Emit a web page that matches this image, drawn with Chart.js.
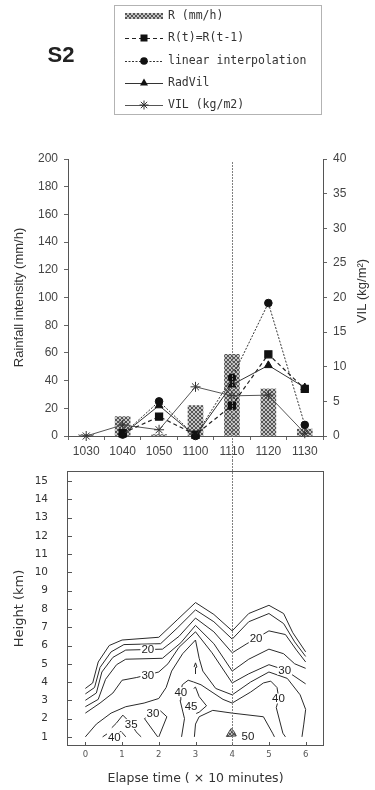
<!DOCTYPE html>
<html><head><meta charset="utf-8">
<script src="https://cdn.jsdelivr.net/npm/chart.js@4.4.1/dist/chart.umd.min.js"></script>
<style>
html,body{margin:0;padding:0;background:#fff;width:375px;height:790px;overflow:hidden}
#top{position:absolute;left:0;top:0;width:375px;height:460px}
#bot{position:absolute;left:0;top:460px;width:375px;height:330px}
</style></head><body>
<div id="top"><canvas id="c1"></canvas></div>
<div id="bot"><canvas id="c2"></canvas></div>
<script>
// ---------- top chart data ----------
const categories = ['1030','1040','1050','1100','1110','1120','1130'];
const rainR    = [1, 14, 1, 22, 59, 34, 5];          // R (mm/h) bars
const rPersist = [null, 2, 14, 1, 22, 59, 34];       // R(t)=R(t-1)
const rLinear  = [null, 1, 25, 0, 42, 96, 8];        // linear interpolation
const radVil   = [null, 1, 22, 0, 37, 51, 35];       // RadVil
const vil      = [0, 1.6, 0.9, 7.1, 5.8, 5.9, 0.4];  // VIL (kg/m2), right axis
const legendLabels = ['R (mm/h)','R(t)=R(t-1)','linear interpolation','RadVil','VIL (kg/m2)'];
const markerCategory = '1110';

// ---------- bottom chart (contours) data ----------
const heightTicks = [1,2,3,4,5,6,7,8,9,10,11,12,13,14,15];
const timeTicks = [0,1,2,3,4,5,6];
const markerTime = 4;
const c10 = [[0,3.65],[0.2,3.95],[0.35,5.1],[0.65,6.0],[1.0,6.3],[2.0,6.45],[2.5,7.4],[3.0,8.35],[3.5,7.7],[4.0,6.8],[4.45,7.75],[5.0,8.2],[5.4,7.75],[5.65,6.7],[6.0,5.65]];
const c15 = [[0,3.35],[0.25,3.7],[0.4,4.8],[0.7,5.65],[1.05,6.05],[2.05,6.1],[2.5,6.95],[3.0,7.95],[3.5,7.3],[4.0,6.35],[4.45,7.3],[5.0,7.75],[5.4,7.2],[5.7,6.2],[6.0,5.4]];
const c20 = [[0,3.0],[0.3,3.4],[0.45,4.55],[0.75,5.35],[1.1,5.75],[2.1,5.8],[2.55,6.5],[3.0,7.5],[3.5,6.75],[4.0,5.6],[4.4,6.1],[4.7,6.45],[5.0,6.8],[5.45,6.6],[5.75,5.75],[6.0,5.1]];
const c25 = [[0,2.65],[0.35,3.05],[0.55,4.15],[0.85,4.95],[1.1,5.25],[2.1,5.3],[2.6,6.15],[3.0,7.1],[3.5,6.1],[4.0,4.6],[4.45,5.25],[5.0,5.8],[5.4,5.55],[5.7,5.0],[6.0,4.75]];
const c30 = [[0,2.3],[0.4,2.85],[0.75,3.4],[1.0,4.1],[1.4,4.25],[2.0,4.55],[2.25,5.0],[2.55,5.9],[3.0,6.75],[3.45,5.6],[4.0,3.95],[4.45,4.45],[5.0,4.95],[5.45,4.65],[6.0,3.9]];
const c35 = [[0,1.0],[0.3,1.7],[0.7,2.3],[1.1,2.65],[1.6,2.85],[2.0,3.1],[2.2,3.7],[2.35,4.6],[2.65,5.55],[3.0,6.3],[3.1,5.3],[3.2,4.6],[3.55,3.65],[4.0,3.3],[4.5,4.0],[5.0,4.55],[5.5,4.2],[5.85,3.3],[6.0,2.5],[5.95,1.7],[5.9,1.0]];
const c40 = [[2.62,1.0],[2.7,2.0],[2.58,3.0],[2.6,3.45],[2.64,3.85],[2.8,4.1],[2.95,4.0],[3.15,3.85],[3.45,3.45],[3.75,3.05],[4.0,2.85],[4.5,3.45],[4.85,3.95],[5.05,4.05],[5.22,3.7],[5.27,3.1],[5.2,2.6],[5.38,1.2],[5.45,1.0]];
const c45a = [[2.95,3.65],[3.0,3.72],[3.1,3.2],[3.3,2.7],[3.1,2.35],[3.02,2.28]];
const c45b = [[2.97,1.0],[3.0,1.7],[3.1,2.1],[3.47,2.45],[4.0,2.3],[4.85,2.1],[5.1,1.2],[5.15,1.0]];
const cTip = [[2.96,4.82],[3.0,5.05],[3.04,4.82],[3.0,4.78],[3.0,4.45]];
const c30low = [[1.97,1.0],[1.61,2.0],[1.84,2.3],[2.02,2.47],[2.22,2.1],[2.0,1.0]];
const c35low = [[0.72,1.5],[0.84,1.74],[1.02,2.19],[1.25,1.72],[1.38,1.28],[1.52,1.0]];
const c40low = [[0.47,1.0],[0.61,1.19],[0.79,1.05],[0.9,1.2],[0.97,1.3],[1.06,1.1],[1.1,1.0]];
const c50 = [[3.84,1.02],[3.92,1.3],[3.97,1.46],[4.05,1.3],[4.11,1.05],[3.84,1.02]];
const contourLabels = [
  {t:'20', x:1.7,  y:5.77}, {t:'30', x:1.7,  y:4.37},
  {t:'20', x:4.65, y:6.4},  {t:'30', x:5.43, y:4.66},
  {t:'40', x:2.6,  y:3.45}, {t:'45', x:2.88, y:2.65},
  {t:'40', x:5.26, y:3.1},  {t:'30', x:1.84, y:2.3},
  {t:'35', x:1.25, y:1.7},  {t:'40', x:0.79, y:0.98},
  {t:'50', x:4.43, y:1.02}
];

Chart.defaults.font.family = '"Liberation Sans", Arial, sans-serif';
Chart.defaults.animation = false;

function makeHatch(ctx){
  const c = document.createElement('canvas'); c.width = c.height = 4;
  const g = c.getContext('2d');
  g.fillStyle = '#c4c4c4'; g.fillRect(0,0,4,4);
  g.fillStyle = '#555555';
  for (let i=0;i<4;i++){ g.fillRect(i,i,1,1); g.fillRect(3-i,i,1,1); }
  return ctx.createPattern(c,'repeat');
}

function zeroPad(s){ s.paddingTop=0; s.paddingBottom=0; s.paddingLeft=0; s.paddingRight=0; }

function drawMk(ctx, type, x, y){
  ctx.save(); ctx.fillStyle='#111'; ctx.strokeStyle='#222'; ctx.lineWidth=1; ctx.setLineDash([]);
  if (type==='rect'){ ctx.fillRect(x-3.5,y-3.5,7,7); }
  else if (type==='circle'){ ctx.beginPath(); ctx.arc(x,y,3.8,0,Math.PI*2); ctx.fill(); }
  else if (type==='triangle'){ ctx.beginPath(); ctx.moveTo(x,y-4.5); ctx.lineTo(x+4,y+2.5); ctx.lineTo(x-4,y+2.5); ctx.closePath(); ctx.fill(); }
  else if (type==='star'){ ctx.strokeStyle='#333'; ctx.beginPath();
    for (let k=0;k<4;k++){ const a=k*Math.PI/4; ctx.moveTo(x-4.5*Math.cos(a),y-4.5*Math.sin(a)); ctx.lineTo(x+4.5*Math.cos(a),y+4.5*Math.sin(a)); }
    ctx.stroke(); }
  ctx.restore();
}

const c1 = document.getElementById('c1');
const ctx1 = c1.getContext('2d');
const hatch1 = makeHatch(ctx1);

const topDecor = {
  id: 'topDecor',
  afterDraw(chart){
    const ctx = chart.ctx, a = chart.chartArea, xs = chart.scales.x;
    ctx.save();
    const vx = Math.round(xs.getPixelForValue(categories.indexOf(markerCategory))) + 0.5;
    ctx.strokeStyle = '#808080'; ctx.lineWidth = 1; ctx.setLineDash([2,1]);
    ctx.beginPath(); ctx.moveTo(vx, a.top + 3); ctx.lineTo(vx, chart.height); ctx.stroke();
    ctx.setLineDash([]);
    ctx.save();
    ctx.translate(362, 291); ctx.rotate(-Math.PI/2);
    ctx.font = '13px "Liberation Sans", Arial, sans-serif'; ctx.fillStyle = '#333';
    ctx.textAlign = 'center'; ctx.textBaseline = 'middle';
    ctx.fillText('VIL (kg/m\u00B2)', 0, 0);
    ctx.restore();
    ctx.font = 'bold 22px "Liberation Sans", Arial, sans-serif'; ctx.fillStyle = '#222';
    ctx.textAlign = 'center'; ctx.textBaseline = 'middle';
    ctx.fillText('S2', 61, 56);
    ctx.strokeStyle = '#666'; ctx.lineWidth = 1; ctx.setLineDash([1,1]);
    ctx.strokeRect(114.5, 5.5, 207, 109);
    ctx.setLineDash([]);
    const rows = [16, 38, 61, 83, 105];
    ctx.font = '11.5px "DejaVu Sans Mono", monospace'; ctx.fillStyle = '#333';
    ctx.textAlign = 'left'; ctx.textBaseline = 'middle';
    legendLabels.forEach((t,i) => ctx.fillText(t, 168, rows[i]));
    ctx.fillStyle = hatch1; ctx.fillRect(125, rows[0]-3, 38, 6);
    const sw = (y, dash, col) => { ctx.save(); ctx.strokeStyle=col; ctx.lineWidth=1; ctx.setLineDash(dash);
      ctx.beginPath(); ctx.moveTo(125, y+0.5); ctx.lineTo(163, y+0.5); ctx.stroke(); ctx.restore(); };
    sw(rows[1], [4,3], '#222'); drawMk(ctx, 'rect', 144, rows[1]);
    sw(rows[2], [2,1.5], '#333'); drawMk(ctx, 'circle', 144, rows[2]);
    sw(rows[3], [], '#333'); drawMk(ctx, 'triangle', 144, rows[3]);
    sw(rows[4], [], '#555'); drawMk(ctx, 'star', 144, rows[4]);
    ctx.restore();
  }
};

const tickFont = {size: 12, family: '"Liberation Sans", Arial, sans-serif'};
new Chart(ctx1, {
  type: 'bar',
  data: {
    labels: categories,
    datasets: [
      {type:'bar', label:legendLabels[0], data: rainR, yAxisID:'y', backgroundColor: hatch1, barThickness: 15, order: 10},
      {type:'line', label:legendLabels[1], data: rPersist, yAxisID:'y', borderColor:'#222', borderWidth:1.2, borderDash:[4,3],
        pointStyle:'rect', pointRadius:5, pointBackgroundColor:'#111', pointBorderColor:'#111', clip:false, order:2},
      {type:'line', label:legendLabels[2], data: rLinear, yAxisID:'y', borderColor:'#333', borderWidth:1, borderDash:[2,1.5],
        pointStyle:'circle', pointRadius:3.8, pointBackgroundColor:'#111', pointBorderColor:'#111', clip:false, order:3},
      {type:'line', label:legendLabels[3], data: radVil, yAxisID:'y', borderColor:'#333', borderWidth:1,
        pointStyle:'triangle', pointRadius:4.5, pointBackgroundColor:'#111', pointBorderColor:'#111', clip:false, order:1},
      {type:'line', label:legendLabels[4], data: vil, yAxisID:'y1', borderColor:'#555', borderWidth:1,
        pointStyle:'star', pointRadius:5, pointBorderColor:'#333', pointBorderWidth:1, clip:false, order:4}
    ]
  },
  options: {
    responsive: true, maintainAspectRatio: false, devicePixelRatio: 1,
    layout: {padding: {top: 159, left: 0, right: 0, bottom: 0}},
    plugins: {legend: {display: false}, tooltip: {enabled: false}},
    scales: {
      x: {
        offset: true,
        grid: {display: true, drawOnChartArea: false, tickLength: 4, color: '#666', offset: true},
        border: {display: true, color: '#555', width: 1},
        ticks: {font: tickFont, color: '#444', padding: 4, maxRotation: 0, autoSkip: false},
        afterFit(s){ s.height = 24; zeroPad(s); }
      },
      y: {
        position: 'left', min: 0, max: 200,
        grid: {display: true, drawOnChartArea: false, tickLength: 4, color: '#666'},
        border: {display: true, color: '#555', width: 1},
        ticks: {stepSize: 20, font: tickFont, color: '#444', padding: 6},
        title: {display: true, text: 'Rainfall intensity (mm/h)', color: '#333',
                font: {size: 13, family: '"Liberation Sans", Arial, sans-serif'}, padding: {top: 12, bottom: 0}},
        afterFit(s){ s.width = 68; zeroPad(s); }
      },
      y1: {
        position: 'right', min: 0, max: 40,
        grid: {display: true, drawOnChartArea: false, tickLength: 4, color: '#666'},
        border: {display: true, color: '#555', width: 1},
        ticks: {stepSize: 5, font: tickFont, color: '#444', padding: 6},
        afterFit(s){ s.width = 52; zeroPad(s); }
      }
    }
  },
  plugins: [topDecor]
});

// ---------- bottom chart ----------
const c2 = document.getElementById('c2');
const ctx2 = c2.getContext('2d');
const hatch2 = makeHatch(ctx2);
const toPts = arr => arr.map(([x,y]) => ({x, y}));
const contourSets = [c10, c15, c20, c25, c30, c35, c40, c45a, c45b, cTip, c30low, c35low, c40low];

const botDecor = {
  id: 'botDecor',
  afterDatasetsDraw(chart){
    const ctx = chart.ctx, xs = chart.scales.x, ys = chart.scales.y;
    ctx.save();
    ctx.font = '11.5px "Liberation Sans", Arial, sans-serif';
    ctx.textAlign = 'center'; ctx.textBaseline = 'middle';
    contourLabels.forEach(l => {
      const px = xs.getPixelForValue(l.x), py = ys.getPixelForValue(l.y);
      const w = ctx.measureText(l.t).width + 2;
      ctx.fillStyle = '#fff'; ctx.fillRect(px - w/2, py - 5, w, 10);
      ctx.fillStyle = '#222'; ctx.fillText(l.t, px, py + 0.5);
    });
    ctx.restore();
  },
  afterDraw(chart){
    const ctx = chart.ctx, a = chart.chartArea, xs = chart.scales.x, ys = chart.scales.y;
    ctx.save();
    ctx.strokeStyle = '#555'; ctx.lineWidth = 1;
    ctx.strokeRect(a.left + 0.5, a.top + 0.5, a.right - a.left - 1, a.bottom - a.top - 1);
    ctx.beginPath();
    ys.ticks.forEach(t => { const py = Math.round(ys.getPixelForValue(t.value)) + 0.5; ctx.moveTo(a.left, py); ctx.lineTo(a.left + 5, py); });
    xs.ticks.forEach(t => { const px = Math.round(xs.getPixelForValue(t.value)) + 0.5; ctx.moveTo(px, a.bottom); ctx.lineTo(px, a.bottom - 4); });
    ctx.stroke();
    const vx = Math.round(xs.getPixelForValue(markerTime)) + 0.5;
    ctx.strokeStyle = '#808080'; ctx.setLineDash([2,1]);
    ctx.beginPath(); ctx.moveTo(vx, 0); ctx.lineTo(vx, a.bottom); ctx.stroke();
    ctx.restore();
  }
};

const botFont = {size: 10.5, family: '"DejaVu Sans", sans-serif'};
new Chart(ctx2, {
  type: 'scatter',
  data: {
    datasets: contourSets.map(arr => ({
      data: toPts(arr), showLine: true, pointRadius: 0, borderColor: '#2a2a2a', borderWidth: 1, tension: 0
    })).concat([{
      data: toPts(c50), showLine: true, pointRadius: 0, borderColor: '#444', borderWidth: 1,
      backgroundColor: hatch2, fill: 'shape'
    }])
  },
  options: {
    responsive: true, maintainAspectRatio: false, devicePixelRatio: 1,
    layout: {padding: {top: 11, right: 51, left: 0, bottom: 0}},
    plugins: {legend: {display: false}, tooltip: {enabled: false}},
    scales: {
      x: {
        type: 'linear', min: -0.5, max: 6.5,
        grid: {display: false, drawTicks: false}, border: {display: false},
        ticks: {font: {size: 8.5, family: '"DejaVu Sans", sans-serif'}, color: '#555', padding: 4},
        afterBuildTicks(s){ s.ticks = timeTicks.map(v => ({value: v})); },
        title: {display: true, text: 'Elapse time ( \u00D7 10 minutes)', color: '#333',
                font: {size: 12.5, family: '"DejaVu Sans", sans-serif'}, padding: {top: 0, bottom: 4}},
        afterFit(s){ s.height = 44; zeroPad(s); }
      },
      y: {
        type: 'linear', min: 0.5, max: 15.55,
        grid: {display: false, drawTicks: false}, border: {display: false},
        ticks: {font: botFont, color: '#333', padding: 19},
        afterBuildTicks(s){ s.ticks = heightTicks.map(v => ({value: v})); },
        title: {display: true, text: 'Height (km)', color: '#333',
                font: {size: 13, family: '"DejaVu Sans", sans-serif'}, padding: {top: 12, bottom: 0}},
        afterFit(s){ s.width = 67; zeroPad(s); }
      }
    }
  },
  plugins: [botDecor]
});
</script>
</body></html>
